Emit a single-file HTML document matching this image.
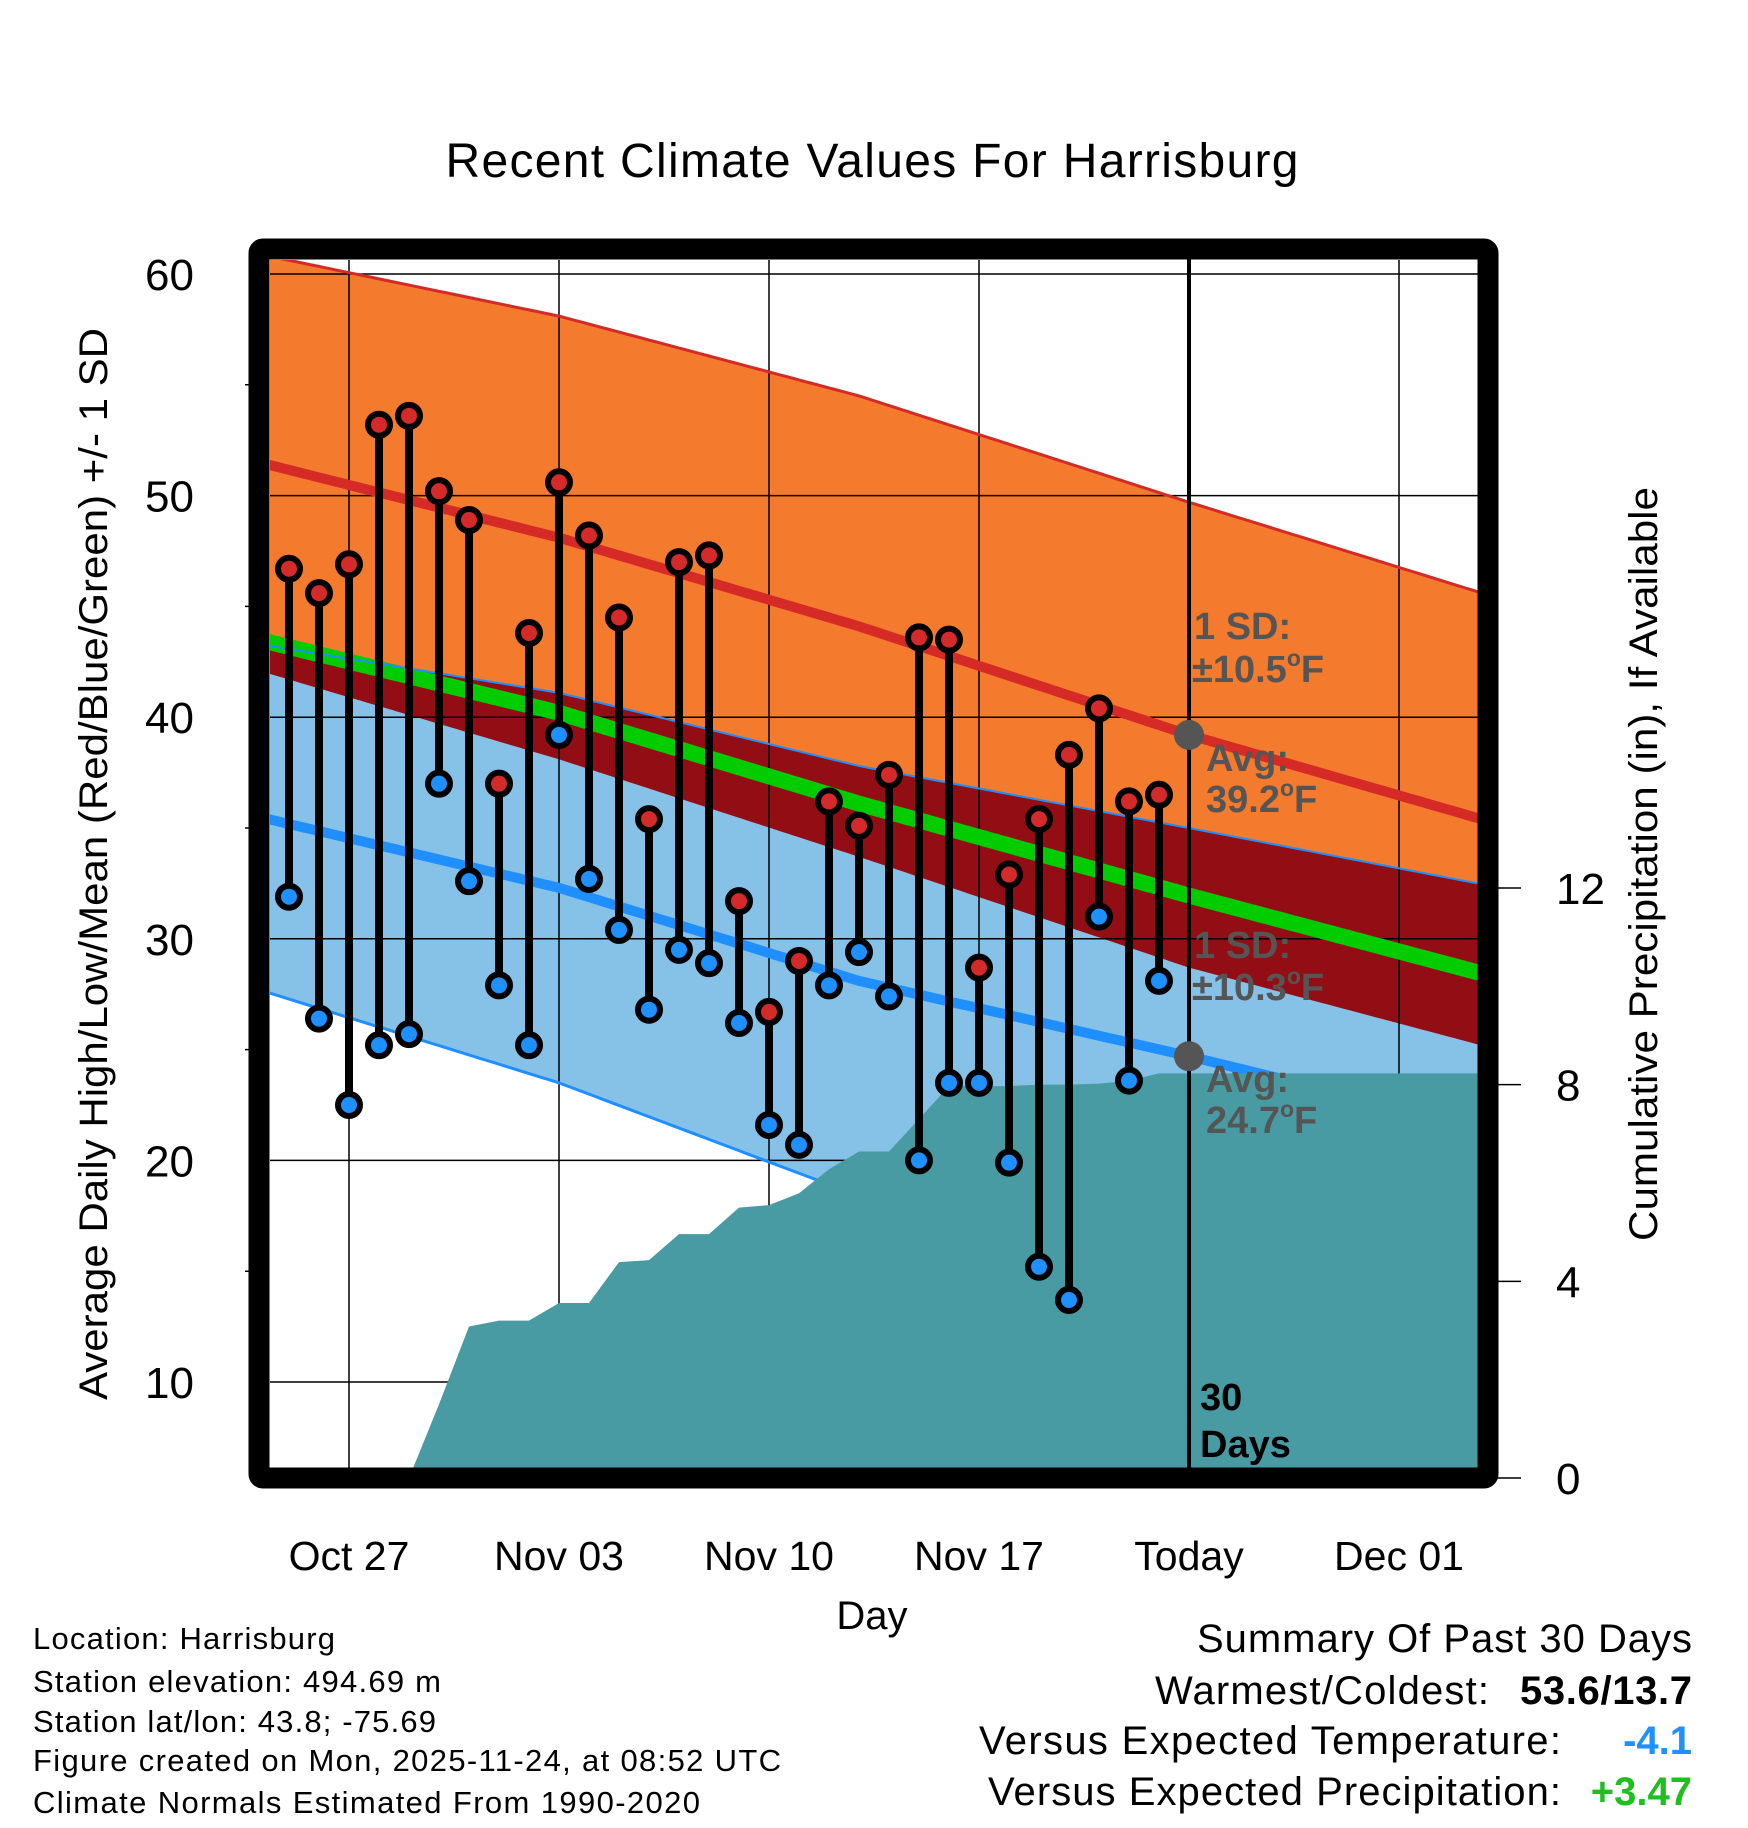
<!DOCTYPE html>
<html><head><meta charset="utf-8"><style>
html,body{margin:0;padding:0;background:#fff}
svg{display:block;font-family:"Liberation Sans",sans-serif}
</style></head><body>
<svg id="chart" width="1748" height="1828" viewBox="0 0 1748 1828" xmlns="http://www.w3.org/2000/svg">
<defs><clipPath id="plotclip"><rect x="270" y="260" width="1208" height="1208"/></clipPath></defs>
<rect width="1748" height="1828" fill="#fff"/>
<text x="872" y="177" font-size="48" text-anchor="middle" textLength="853">Recent Climate Values For Harrisburg</text>
<g id="plot" clip-path="url(#plotclip)"></g>
<g id="axes"></g>
<g id="marks"></g>
<text transform="translate(107,864) rotate(-90)" font-size="40" text-anchor="middle" textLength="1072" lengthAdjust="spacingAndGlyphs">Average Daily High/Low/Mean (Red/Blue/Green) +/- 1 SD</text>
<text transform="translate(1657,864) rotate(-90)" font-size="40" text-anchor="middle" textLength="754" lengthAdjust="spacingAndGlyphs">Cumulative Precipitation (in), If Available</text>
<text x="872" y="1629" font-size="40" text-anchor="middle">Day</text>
<g font-size="31">
<text x="33" y="1649" textLength="302">Location: Harrisburg</text>
<text x="33" y="1692" textLength="408">Station elevation: 494.69 m</text>
<text x="33" y="1732" textLength="403">Station lat/lon: 43.8; -75.69</text>
<text x="33" y="1771" textLength="748">Figure created on Mon, 2025-11-24, at 08:52 UTC</text>
<text x="33" y="1813" textLength="667">Climate Normals Estimated From 1990-2020</text>
</g>
<g font-size="40">
<text x="1692" y="1652" text-anchor="end" textLength="495">Summary Of Past 30 Days</text>
<text x="1489" y="1704" text-anchor="end" textLength="334">Warmest/Coldest:</text>
<text x="1692" y="1704" text-anchor="end" font-weight="bold" textLength="172">53.6/13.7</text>
<text x="1561" y="1754" text-anchor="end" textLength="582">Versus Expected Temperature:</text>
<text x="1692" y="1754" text-anchor="end" font-weight="bold" fill="#1e90ff">-4.1</text>
<text x="1561" y="1805" text-anchor="end" textLength="573">Versus Expected Precipitation:</text>
<text x="1692" y="1805" text-anchor="end" font-weight="bold" fill="#1fbf1f">+3.47</text>
</g>
<g font-size="38" font-weight="bold" fill="#555">
<text x="1194" y="639">1 SD:</text>
<text x="1192" y="682">±10.5<tspan font-size="23" dy="-16">o</tspan><tspan dy="16">F</tspan></text>
<text x="1206" y="771">Avg:</text>
<text x="1206" y="812">39.2<tspan font-size="23" dy="-16">o</tspan><tspan dy="16">F</tspan></text>
<text x="1194" y="958">1 SD:</text>
<text x="1192" y="1000">±10.3<tspan font-size="23" dy="-16">o</tspan><tspan dy="16">F</tspan></text>
<text x="1206" y="1092">Avg:</text>
<text x="1206" y="1133">24.7<tspan font-size="23" dy="-16">o</tspan><tspan dy="16">F</tspan></text>
</g>
<g font-size="38" font-weight="bold" fill="#000">
<text x="1200" y="1410">30</text>
<text x="1200" y="1457">Days</text>
</g>
</svg>
<script>
// ---- data ----
const dayLabels = ["Oct 25","Oct 26","Oct 27","Oct 28","Oct 29","Oct 30","Oct 31","Nov 01","Nov 02","Nov 03","Nov 04","Nov 05","Nov 06","Nov 07","Nov 08","Nov 09","Nov 10","Nov 11","Nov 12","Nov 13","Nov 14","Nov 15","Nov 16","Nov 17","Nov 18","Nov 19","Nov 20","Nov 21","Nov 22","Nov 23"];
const highs = [46.7,45.6,46.9,53.2,53.6,50.2,48.9,37.0,43.8,50.6,48.2,44.5,35.4,47.0,47.3,31.7,26.7,29.0,36.2,35.1,37.4,43.6,43.5,28.7,32.9,35.4,38.3,40.4,36.2,36.5];
const lows = [31.9,26.4,22.5,25.2,25.7,37.0,32.6,27.9,25.2,39.2,32.7,30.4,26.8,29.5,28.9,26.2,21.6,20.7,27.9,29.4,27.4,20.0,23.5,23.5,19.9,15.2,13.7,31.0,23.6,28.1];
const precipCum = [0,0,0,0,0,1.5,3.08,3.2,3.2,3.56,3.56,4.39,4.43,4.96,4.96,5.5,5.55,5.79,6.28,6.64,6.64,7.3,7.97,7.97,7.97,8.0,8.0,8.02,8.08,8.23,8.23];
const normalDays = [-3,7,17,28,38]; // days relative to Oct 27
const highMean = [51.5,48.1,44.1,39.2,35.3];
const highSD = [9.4,10.0,10.4,10.5,10.2];
const lowMean = [35.5,32.3,28.1,24.7,21.4];
const lowSD = [7.8,8.8,9.7,10.3,11.0];
const xTickLabels = ["Oct 27","Nov 03","Nov 10","Nov 17","Today","Dec 01"];
const xTickDays = [0,7,14,21,28,35];
const yTicks = [10,20,30,40,50,60];
const y2Ticks = [0,4,8,12];
const firstDay = -2; // Oct 25
const todayDay = 28;

// ---- scales ----
const X = d => 349 + d*30;
const Y = v => 274 + (60 - v)*22.16;
const YP = p => 1478 - p*49.17;
const NS = "http://www.w3.org/2000/svg";
function mk(tag, attrs, parent){const e=document.createElementNS(NS,tag);for(const k in attrs)e.setAttribute(k,attrs[k]);parent.appendChild(e);return e;}
const plot=document.getElementById('plot'), axes=document.getElementById('axes'), marks=document.getElementById('marks');

function interp(arr, d){
  if(d<=normalDays[0]) return arr[0]+(arr[1]-arr[0])*(d-normalDays[0])/(normalDays[1]-normalDays[0]);
  for(let i=0;i<normalDays.length-1;i++){
    if(d<=normalDays[i+1]) return arr[i]+(arr[i+1]-arr[i])*(d-normalDays[i])/(normalDays[i+1]-normalDays[i]);
  }
  const n=normalDays.length-1;
  return arr[n]+(arr[n]-arr[n-1])*(d-normalDays[n])/(normalDays[n]-normalDays[n-1]);
}
const sd=[];for(let d=-3.2; d<=38.2; d+=0.2) sd.push(d);
const hU=d=>interp(highMean,d)+interp(highSD,d), hL=d=>interp(highMean,d)-interp(highSD,d);
const lU=d=>interp(lowMean,d)+interp(lowSD,d), lL=d=>interp(lowMean,d)-interp(lowSD,d);
function band(top,bot){return sd.map(d=>X(d)+','+Y(top(d))).concat(sd.slice().reverse().map(d=>X(d)+','+Y(bot(d)))).join(' ');}
function line(f){return sd.map(d=>X(d)+','+Y(f(d))).join(' ');}

let e;
e=mk('polygon',{points:band(hU,hL),fill:'#f47a2d'},plot);


e=mk('polygon',{points:band(lU,lL),fill:'#86c1e8'},plot);


e=mk('polygon',{points:band(d=>Math.min(hU(d),lU(d)),d=>Math.max(hL(d),lL(d))),fill:'#930e14'},plot);


// grid
yTicks.forEach(v=>{e=mk('line',{x1:210,x2:1478,y1:Y(v),y2:Y(v),stroke:'#000','stroke-width':1.5},plot);

});
xTickDays.forEach(d=>{e=mk('line',{x1:X(d),x2:X(d),y1:218,y2:1503,stroke:'#000','stroke-width':1.5},plot);

});
e=mk('polyline',{points:line(d=>(interp(highMean,d)+interp(lowMean,d))/2),fill:'none',stroke:'#00cc00','stroke-width':16},plot);


e=mk('polyline',{points:line(d=>interp(highMean,d)),fill:'none',stroke:'#d52a26','stroke-width':10},plot);


e=mk('polyline',{points:line(d=>interp(lowMean,d)),fill:'none',stroke:'#1f8fff','stroke-width':10},plot);


e=mk('polyline',{points:line(hU),fill:'none',stroke:'#d52a26','stroke-width':3},plot);


e=mk('polyline',{points:line(lU),fill:'none',stroke:'#1f8fff','stroke-width':2},plot);


e=mk('polyline',{points:line(lL),fill:'none',stroke:'#1f8fff','stroke-width':3},plot);


// precip area
let pp=[];precipCum.forEach((p,i)=>pp.push(X(firstDay+i)+','+YP(p)));
pp.push('1480,'+YP(precipCum[precipCum.length-1]));pp.push('1480,1480');pp.push(X(firstDay)+',1480');
e=mk('polygon',{points:pp.join(' '),fill:'#489ba3'},plot);



// axes ticks and labels
yTicks.forEach(v=>{
  e=mk('text',{x:194,y:Y(v)+16,'font-size':44,'text-anchor':'end'},axes);e.textContent=v;
  
  
});
for(let v=10;v<=55;v+=10){e=mk('line',{x1:245,x2:262,y1:Y(v+5),y2:Y(v+5),stroke:'#000','stroke-width':1.5},axes);

}
y2Ticks.forEach(p=>{
  e=mk('line',{x1:1488,x2:1521,y1:YP(p),y2:YP(p),stroke:'#000','stroke-width':1.5},axes);
  
  
  e=mk('text',{x:1556,y:YP(p)+16,'font-size':44},axes);e.textContent=p;
  
  
});
xTickDays.forEach((d,i)=>{
  e=mk('text',{x:X(d),y:1570,'font-size':41,'text-anchor':'middle'},axes);e.textContent=xTickLabels[i];
  
  
});
// frame
e=mk('rect',{x:259,y:249,width:1229,height:1229,fill:'none',stroke:'#000','stroke-width':21,'stroke-linejoin':'round',rx:4},axes);


// today line
e=mk('line',{x1:X(todayDay),x2:X(todayDay),y1:258,y2:1470,stroke:'#000','stroke-width':4},axes);



// daily marks
highs.forEach((h,i)=>{
  const x=X(firstDay+i), l=lows[i];
  e=mk('line',{x1:x,x2:x,y1:Y(h),y2:Y(l),stroke:'#000','stroke-width':8},marks);
  
  
  e=mk('circle',{cx:x,cy:Y(h),r:11,fill:'#d42a2a',stroke:'#000','stroke-width':6},marks);
  
  
  e=mk('circle',{cx:x,cy:Y(l),r:11,fill:'#1e90ff',stroke:'#000','stroke-width':6},marks);
  
  
});
e=mk('circle',{cx:X(todayDay),cy:Y(interp(highMean,todayDay)),r:15,fill:'#555'},marks);


e=mk('circle',{cx:X(todayDay),cy:Y(interp(lowMean,todayDay)),r:15,fill:'#555'},marks);


</script>
</body></html>
